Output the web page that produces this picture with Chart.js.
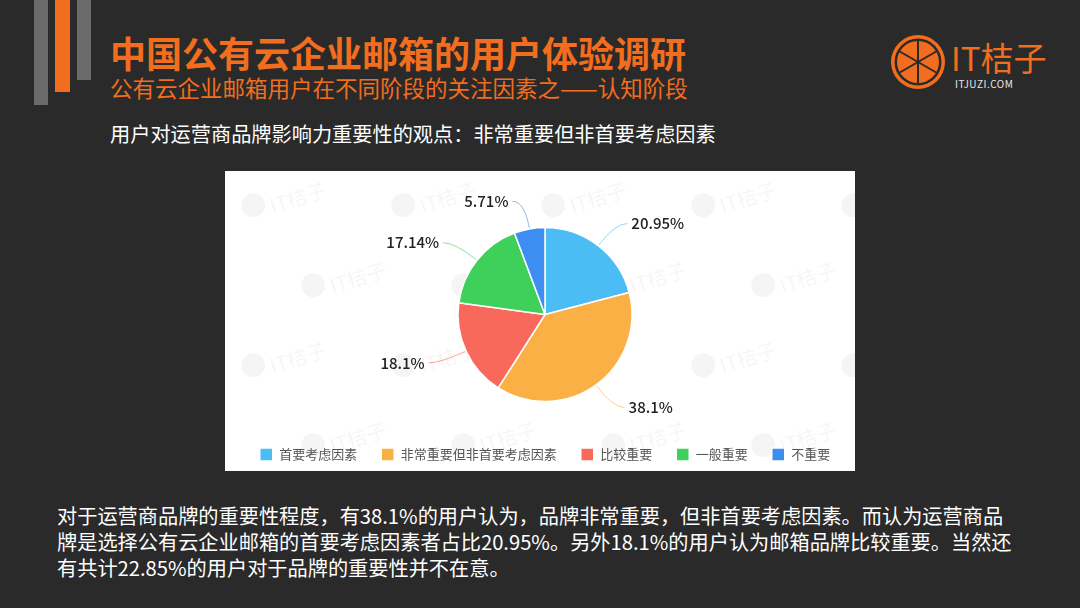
<!DOCTYPE html>
<html>
<head>
<meta charset="utf-8">
<script src="https://cdn.jsdelivr.net/npm/chart.js@4/dist/chart.umd.min.js"></script>
<style>
  html, body { margin: 0; padding: 0; }
  body {
    width: 1080px; height: 608px; overflow: hidden; position: relative;
    background: #2a2a2a; font-family: "Noto Sans CJK SC", "Noto Sans", sans-serif;
  }
  .bar { position: absolute; top: 0; }
  .title { position: absolute; left: 110px; top: 30px; font-size: 36px; font-weight: 700; color: #f26d1d; line-height: 44px; white-space: nowrap; }
  .subtitle { position: absolute; left: 110px; top: 73px; font-size: 22.5px; color: #f26d1d; line-height: 28px; white-space: nowrap; }
  .heading { position: absolute; left: 110px; top: 120px; font-size: 20.2px; color: #ffffff; line-height: 28px; white-space: nowrap; }
  .box { position: absolute; left: 225px; top: 171px; width: 630px; height: 300px; background: #fff; }
  .note { position: absolute; left: 57px; top: 503px; font-size: 20.2px; color: #ffffff; line-height: 26px; white-space: nowrap; }
  .logo { position: absolute; left: 890px; top: 34px; }
  .logo-text { position: absolute; left: 951px; top: 36px; font-size: 33px; color: #f26d1d; line-height: 42px; white-space: nowrap; }
  .logo-sub { position: absolute; left: 955px; top: 78px; font-size: 10px; color: #e8e8e8; line-height: 12px; letter-spacing: 0.5px; }
</style>
</head>
<body>
<div class="bar" style="left:34px;width:14px;height:105px;background:#6b6b6b"></div>
<div class="bar" style="left:55px;width:15px;height:92px;background:#f26d1d"></div>
<div class="bar" style="left:77px;width:14px;height:80px;background:#6b6b6b"></div>

<div class="title">中国公有云企业邮箱的用户体验调研</div>
<div class="subtitle">公有云企业邮箱用户在不同阶段的关注因素之——认知阶段</div>
<div class="heading">用户对运营商品牌影响力重要性的观点：非常重要但非首要考虑因素</div>

<svg class="logo" width="56" height="56" viewBox="0 0 56 56">
  <circle cx="28" cy="28" r="27" fill="#f26d1d"/>
  <circle cx="28" cy="28" r="23.5" fill="#2a2a2a"/>
  <circle cx="28" cy="28" r="21" fill="#f26d1d"/>
  <g stroke="#2a2a2a" stroke-width="2">
    <line x1="28" y1="7" x2="28" y2="49"/>
    <line x1="9.8" y1="17.5" x2="46.2" y2="38.5"/>
    <line x1="9.8" y1="38.5" x2="46.2" y2="17.5"/>
  </g>
</svg>
<div class="logo-text">IT桔子</div>
<div class="logo-sub">ITJUZI.COM</div>

<div class="box"><canvas id="pie"></canvas></div>

<div class="note">对于运营商品牌的重要性程度，有38.1%的用户认为，品牌非常重要，但非首要考虑因素。而认为运营商品<br>牌是选择公有云企业邮箱的首要考虑因素者占比20.95%。另外18.1%的用户认为邮箱品牌比较重要。当然还<br>有共计22.85%的用户对于品牌的重要性并不在意。</div>

<script>
// Chart data
const categories = ["首要考虑因素", "非常重要但非首要考虑因素", "比较重要", "一般重要", "不重要"];
const shares = [20.95, 38.1, 18.1, 17.14, 5.71];
const sliceColors = ["#4bbcf4", "#fbb045", "#f8695b", "#3fcf5b", "#3d8ef0"];

Chart.defaults.font.family = '"Noto Sans CJK SC", "Noto Sans", sans-serif';

// faint watermark + white background
const watermark = {
  id: "watermark",
  beforeDraw(chart) {
    const ctx = chart.ctx;
    ctx.save();
    ctx.fillStyle = "#fff";
    ctx.fillRect(0, 0, chart.width, chart.height);
    ctx.fillStyle = "rgba(0,0,0,0.04)";
    ctx.font = '20px "Noto Sans CJK SC"';
    for (let row = 0; row < 4; row++) {
      for (let col = 0; col < 5; col++) {
        const x = 30 + col * 150 + (row % 2) * 60;
        const y = 40 + row * 80;
        ctx.save();
        ctx.translate(x, y);
        ctx.rotate(-0.3);
        ctx.beginPath();
        ctx.arc(0, -6, 12, 0, Math.PI * 2);
        ctx.fill();
        ctx.fillText("IT桔子", 16, 0);
        ctx.restore();
      }
    }
    ctx.restore();
  },
};

// labels outside the pie with smooth leader lines
const outerLabels = {
  id: "outerLabels",
  afterDatasetsDraw(chart) {
    const ctx = chart.ctx;
    const meta = chart.getDatasetMeta(0);
    meta.data.forEach((arc, i) => {
      const mid = (arc.startAngle + arc.endAngle) / 2;
      const r = arc.outerRadius;
      const cos = Math.cos(mid), sin = Math.sin(mid);
      const x0 = arc.x + cos * (r + 1), y0 = arc.y + sin * (r + 1);
      const x1 = arc.x + cos * (r + 28), y1 = arc.y + sin * (r + 28);
      const right = cos >= 0;
      const x2 = x1 + (right ? 12 : -12);

      ctx.save();
      ctx.strokeStyle = sliceColors[i];
      ctx.globalAlpha = 0.6;
      ctx.lineWidth = 1;
      ctx.beginPath();
      ctx.moveTo(x0, y0);
      ctx.quadraticCurveTo(x1, y1, x2, y1);
      ctx.stroke();
      ctx.globalAlpha = 1;
      ctx.fillStyle = "#222";
      ctx.font = '500 15px "Noto Sans CJK SC"';
      ctx.textAlign = right ? "left" : "right";
      ctx.textBaseline = "middle";
      ctx.fillText(shares[i] + "%", x2 + (right ? 4 : -4), y1);
      ctx.restore();
    });
  },
};

new Chart(document.getElementById("pie").getContext("2d"), {
  type: "pie",
  data: {
    labels: categories,
    datasets: [{
      data: shares,
      backgroundColor: sliceColors,
      borderColor: "#fff",
      borderWidth: 1.5,
      radius: 87,
    }],
  },
  options: {
    responsive: true,
    maintainAspectRatio: false,
    animation: false,
    layout: { padding: { top: 34, left: 10, bottom: 0 } },
    plugins: {
      legend: {
        position: "bottom",
        labels: {
          boxWidth: 13,
          boxHeight: 13,
          padding: 24,
          color: "#555",
          font: { size: 13 },
        },
      },
      tooltip: { enabled: false },
    },
  },
  plugins: [watermark, outerLabels],
});
</script>
</body>
</html>
